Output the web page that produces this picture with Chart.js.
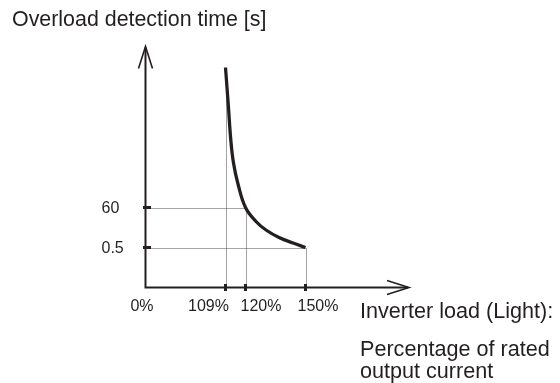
<!DOCTYPE html>
<html><head><meta charset="utf-8">
<script src="https://cdn.jsdelivr.net/npm/chart.js@4/dist/chart.umd.min.js"></script>
<style>html,body{margin:0;padding:0;background:#fff;}#wrap{width:560px;height:383px;position:relative;}</style>
</head><body><div id="wrap"><canvas id="c" width="560" height="383"></canvas></div>
<script>
// schematic axis positions (the reference is not drawn to scale)
const xTickValues = [0, 40, 50, 80];
const xTickLabels = ['0%', '109%', '120%', '150%'];
const yTickValues = [20, 40];
const yTickLabels = ['0.5', '60'];
// overload curve (schematic units)
const curveX = [40, 41.4, 42.65, 44, 46.25, 50, 55.25, 60.25, 66.75, 73.75, 80];
const curveY = [110, 91.25, 73.75, 62.25, 51.75, 40, 33, 28.75, 25, 22.25, 20];
const yAxisTitle = 'Overload detection time [s]';
const xAxisTitle = ['Inverter load (Light):', 'Percentage of rated', 'output current'];

const INK = '#231f20';
const FONT = '"Liberation Sans", Arial, Helvetica, sans-serif';
const xLabelDx = [-3.5, -17, 15.5, 12.5];

const points = curveX.map((x, i) => ({x: x, y: curveY[i]}));

const schematic = {
  id: 'schematic',
  beforeDatasetsDraw(chart) {
    const ctx = chart.ctx, xs = chart.scales.x, ys = chart.scales.y;
    ctx.save();
    ctx.strokeStyle = '#4a4a4a';
    ctx.lineWidth = 1;
    ctx.setLineDash([1, 1]);
    const x0 = xs.getPixelForValue(0), y0 = ys.getPixelForValue(0);
    // vertical guides: from x axis up to the curve
    xTickValues.forEach(v => {
      const i = curveX.indexOf(v);
      if (i < 0) return;
      const px = Math.round(xs.getPixelForValue(v)) + 0.5;
      ctx.beginPath();
      ctx.moveTo(px, y0);
      ctx.lineTo(px, ys.getPixelForValue(curveY[i]));
      ctx.stroke();
    });
    // horizontal guides: from y axis to the curve
    yTickValues.forEach(v => {
      const i = curveY.indexOf(v);
      if (i < 0) return;
      const py = Math.round(ys.getPixelForValue(v)) + 0.5;
      ctx.beginPath();
      ctx.moveTo(x0 + 5, py);
      ctx.lineTo(xs.getPixelForValue(curveX[i]), py);
      ctx.stroke();
    });
    ctx.restore();
  },
  afterDatasetsDraw(chart) {
    const ctx = chart.ctx, xs = chart.scales.x, ys = chart.scales.y;
    const x0 = xs.getPixelForValue(0), y0 = ys.getPixelForValue(0);
    const xEnd = xs.getPixelForValue(xs.max), yEnd = ys.getPixelForValue(ys.max);
    ctx.save();
    ctx.strokeStyle = INK;
    ctx.fillStyle = INK;
    ctx.lineCap = 'butt';
    // axes
    ctx.lineWidth = 2;
    ctx.beginPath();
    ctx.moveTo(x0, y0 + 1); ctx.lineTo(x0, yEnd + 1);
    ctx.moveTo(x0 - 1, y0); ctx.lineTo(xEnd - 1, y0);
    ctx.stroke();
    // open arrowheads
    ctx.lineWidth = 1.6;
    ctx.beginPath();
    ctx.moveTo(x0 - 7, yEnd + 22); ctx.lineTo(x0, yEnd); ctx.lineTo(x0 + 7, yEnd + 22);
    ctx.moveTo(xEnd - 22, y0 - 7); ctx.lineTo(xEnd, y0); ctx.lineTo(xEnd - 22, y0 + 7);
    ctx.stroke();
    // tick marks
    xTickValues.forEach(v => {
      if (v === 0) return;
      const px = xs.getPixelForValue(v);
      ctx.fillRect(px - 1.5, y0 - 3.5, 3, 7);
    });
    yTickValues.forEach(v => {
      const py = ys.getPixelForValue(v);
      ctx.fillRect(x0 - 2.5, py - 1.5, 8, 3);
    });
    // tick labels
    ctx.font = '16px ' + FONT;
    ctx.textBaseline = 'alphabetic';
    ctx.textAlign = 'center';
    xTickValues.forEach((v, i) => {
      ctx.fillText(xTickLabels[i], xs.getPixelForValue(v) + xLabelDx[i], y0 + 23.5);
    });
    ctx.textAlign = 'left';
    ctx.textBaseline = 'middle';
    yTickValues.forEach((v, i) => {
      ctx.fillText(yTickLabels[i], 101.5, ys.getPixelForValue(v) + 1);
    });
    // axis titles
    ctx.font = '21.4px ' + FONT;
    ctx.textBaseline = 'alphabetic';
    ctx.fillText(yAxisTitle, 12, 26);
    ctx.font = '21.6px ' + FONT;
    const bl = [318, 356, 377.5];
    xAxisTitle.forEach((t, i) => ctx.fillText(t, 360, bl[i]));
    ctx.restore();
  }
};

new Chart(document.getElementById('c'), {
  type: 'line',
  data: {
    datasets: [{
      label: yAxisTitle,
      data: points,
      borderColor: INK,
      borderWidth: 3.3,
      pointRadius: 0,
      fill: false,
      tension: 0.4,
      borderCapStyle: 'butt'
    }]
  },
  options: {
    responsive: false,
    animation: false,
    layout: {padding: {left: 145.5, right: 151, top: 46.5, bottom: 95.5}},
    plugins: {legend: {display: false}, tooltip: {enabled: false}, title: {display: false}},
    scales: {
      x: {type: 'linear', min: 0, max: 131.75, display: false},
      y: {type: 'linear', min: 0, max: 120.5, display: false}
    }
  },
  plugins: [schematic]
});
</script>
</body></html>
